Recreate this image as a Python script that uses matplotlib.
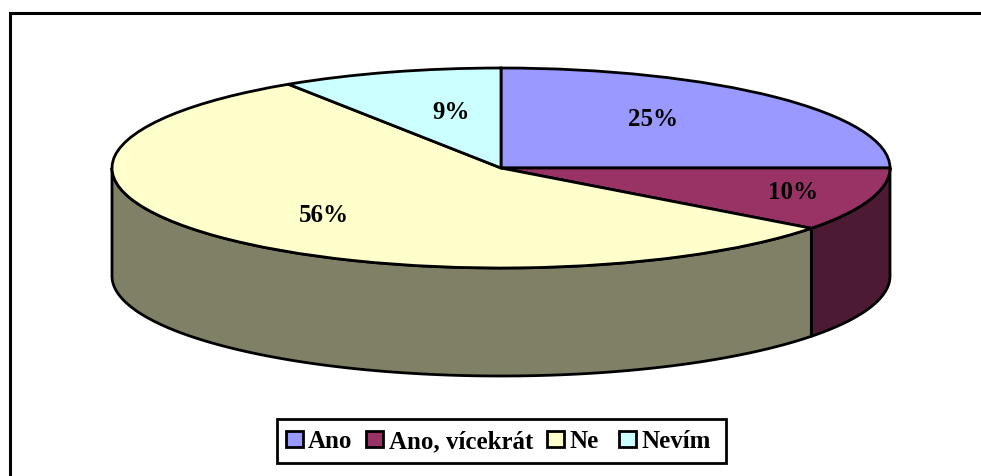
import numpy as np
import matplotlib
matplotlib.use("Agg")
import matplotlib.pyplot as plt
from matplotlib.patches import Polygon, Rectangle
from matplotlib.lines import Line2D
from matplotlib.transforms import Affine2D

categories = ["Ano", "Ano, vícekrát", "Ne", "Nevím"]
values = [25.0, 10.3, 55.5, 9.2]
labels = ["25%", "10%", "56%", "9%"]
top_colors = ["#9999FF", "#993366", "#FFFFCC", "#CCFFFF"]
side_colors = ["#4D4D80", "#4D1A33", "#808066", "#668080"]

W, H = 981, 476
CX, CY, RX, RY, DEPTH = 501, 168, 389, 100, 108
plt.rcParams["font.family"] = ["Liberation Serif"]
fig = plt.figure(figsize=(W / 100, H / 100), dpi=100)
ax = fig.add_axes([0, 0, 1, 1])
px = Affine2D().scale(1 / W, -1 / H).translate(0, 1) + fig.transFigure

wedges, _ = ax.pie(values, colors=top_colors, startangle=90, counterclock=False,
                   wedgeprops=dict(edgecolor="black", linewidth=2, zorder=3))
ax.set_aspect("auto")
ax.set_xlim(-CX / RX, (W - CX) / RX)
ax.set_ylim(-(H - CY) / RY, CY / RY)
ax.axis("off")

d = DEPTH / RY
edges = 90 - np.cumsum([0] + values) * 3.6
for i in range(len(values)):
    a0, a1 = edges[i], edges[i + 1]
    # only the front half (sin<=0) of the rim is visible
    hi, lo = min(a0, 0), max(a1, -180)
    if hi <= lo:
        continue
    t = np.radians(np.linspace(hi, lo, 200))
    x, y = np.cos(t), np.sin(t)
    pts = np.r_[np.c_[x, y], np.c_[x[::-1], y[::-1] - d]]
    ax.add_patch(Polygon(pts, closed=True, facecolor=side_colors[i],
                         edgecolor="black", linewidth=2, zorder=2, joinstyle="round"))

label_px = [(653.5, 126), (793.5, 199), (323.5, 222), (451, 119)]
for s, (lx, ly) in zip(labels, label_px):
    fig.text(lx, ly, s, transform=px, ha="center", va="baseline",
             fontsize=18, fontweight="bold", color="black", zorder=5)

# outer frame: top and left edges are the only ones inside the picture
fig.add_artist(Line2D([9.5, 9.5, W], [H, 13.2, 13.2], color="black", lw=2.2, transform=px,
                      solid_joinstyle="miter"))

# legend, laid out to the reference's uneven spacing
fig.add_artist(Rectangle((276.5, 418.5), 449.5, 44.5, transform=px, facecolor="white",
                         edgecolor="black", linewidth=2))
swatch_x = [285.5, 366, 547, 618.5]
text_x = [308, 389, 570, 642]
for name, color, sx, tx in zip(categories, top_colors, swatch_x, text_x):
    fig.add_artist(Rectangle((sx, 430.5), 17, 16.5, transform=px, facecolor=color,
                             edgecolor="black", linewidth=2))
    fig.text(tx, 448, name, transform=px, ha="left", va="baseline",
             fontsize=18, fontweight="bold", color="black")

fig.savefig("out.png", dpi=100)
